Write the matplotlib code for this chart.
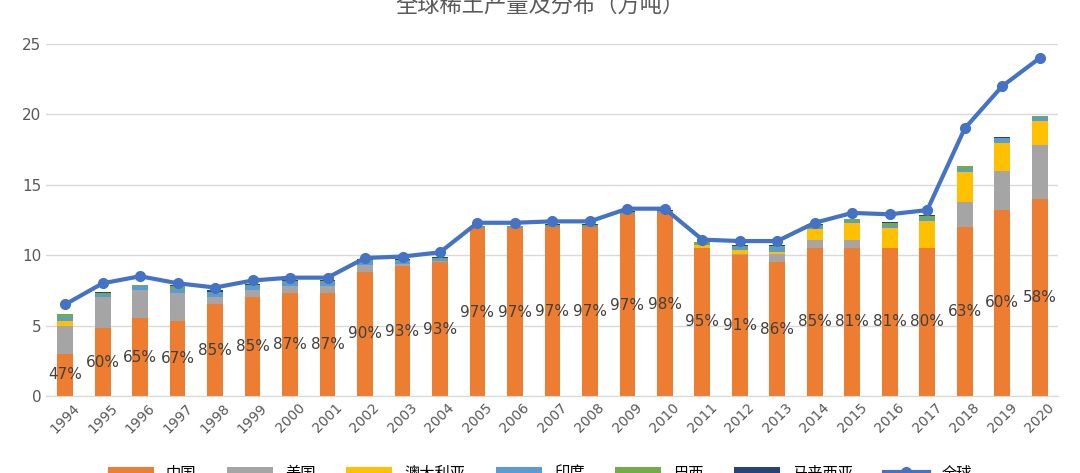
import numpy as np
import matplotlib.pyplot as plt

plt.rcParams['font.family'] = ['DejaVu Sans', 'Noto Sans CJK SC']

years = [str(y) for y in range(1994, 2021)]
china = [3.0, 4.8, 5.5, 5.3, 6.5, 7.0, 7.3, 7.3, 8.8, 9.2, 9.5, 11.9, 11.9, 12.0, 12.0, 12.9, 13.0,
         10.5, 10.0, 9.5, 10.5, 10.5, 10.5, 10.5, 12.0, 13.2, 14.0]
usa = [2.0, 2.2, 2.0, 2.0, 0.5, 0.5, 0.5, 0.5, 0.5, 0.2, 0.1, 0, 0, 0, 0, 0, 0,
       0, 0.1, 0.55, 0.55, 0.55, 0, 0, 1.8, 2.8, 3.8]
australia = [0.3, 0, 0, 0, 0, 0, 0, 0, 0, 0, 0, 0, 0, 0, 0, 0, 0,
             0.2, 0.3, 0.2, 0.8, 1.2, 1.4, 1.9, 2.1, 2.0, 1.7]
india = [0.3, 0.2, 0.3, 0.3, 0.3, 0.3, 0.3, 0.3, 0.3, 0.2, 0.15, 0.1, 0.1, 0.1, 0.1, 0.1, 0.1,
         0.1, 0.2, 0.3, 0.2, 0.2, 0.2, 0.2, 0.2, 0.3, 0.3]
brazil = [0.2, 0.1, 0.05, 0.2, 0.1, 0.1, 0.05, 0.05, 0.05, 0.05, 0.05, 0.05, 0.05, 0.05, 0.05, 0.05, 0.05,
          0.1, 0.05, 0.1, 0.1, 0.1, 0.2, 0.2, 0.2, 0.05, 0.05]
malaysia = [0.05, 0.1, 0.05, 0.05, 0.1, 0.05, 0.05, 0.05, 0.05, 0.05, 0.05, 0.05, 0.05, 0.05, 0.05, 0.05, 0.05,
            0.05, 0.05, 0.05, 0.05, 0.05, 0.05, 0.05, 0.05, 0.05, 0.05]
world = [6.5, 8.0, 8.5, 8.0, 7.7, 8.2, 8.4, 8.4, 9.8, 9.9, 10.2, 12.3, 12.3, 12.4, 12.4, 13.3, 13.3,
         11.1, 11.0, 11.0, 12.3, 13.0, 12.9, 13.2, 19.0, 22.0, 24.0]
share = ['47%', '60%', '65%', '67%', '85%', '85%', '87%', '87%', '90%', '93%', '93%', '97%', '97%', '97%',
         '97%', '97%', '98%', '95%', '91%', '86%', '85%', '81%', '81%', '80%', '63%', '60%', '58%']

series = [('中国', china, '#ED7D31'), ('美国', usa, '#A5A5A5'), ('澳大利亚', australia, '#FFC000'),
          ('印度', india, '#5B9BD5'), ('巴西', brazil, '#70AD47'), ('马来西亚', malaysia, '#264478')]

fig = plt.figure(figsize=(10.8, 4.73), dpi=100)
ax = fig.add_axes([0.043, 0.163, 0.937, 0.744])
x = np.arange(len(years))
bottom = np.zeros(len(years))
handles = []
for name, vals, color in series:
    handles.append(ax.bar(x, vals, 0.42, bottom=bottom, color=color, label=name, zorder=2))
    bottom += np.array(vals)
line, = ax.plot(x, world, color='#4472C4', lw=3, marker='o', ms=7, label='全球', zorder=3)
handles.append(line)
for i, s in enumerate(share):
    ax.text(x[i], china[i] / 2, s, ha='center', va='center', fontsize=11, color='#404040', zorder=4)

ax.set_xlim(-0.5, len(years) - 0.5)
ax.set_ylim(0, 25)
ax.set_yticks(range(0, 26, 5))
ax.set_xticks(x)
ax.set_xticklabels(years, rotation=45, fontsize=10, color='#595959')
ax.tick_params(axis='y', labelsize=11, colors='#595959', length=0)
ax.tick_params(axis='x', length=0)
ax.grid(axis='y', color='#D9D9D9', lw=1, zorder=0)
for s in ['top', 'right', 'left']:
    ax.spines[s].set_visible(False)
ax.spines['bottom'].set_color('#D9D9D9')
fig.text(0.5, 0.99, '全球稀土产量及分布（万吨）', ha='center', va='center', fontsize=16, color='#595959')
fig.legend(handles=handles, loc='center', bbox_to_anchor=(0.5, 0.0), ncol=7, frameon=False,
           fontsize=11, handlelength=3)
fig.savefig('out.png', dpi=100)
